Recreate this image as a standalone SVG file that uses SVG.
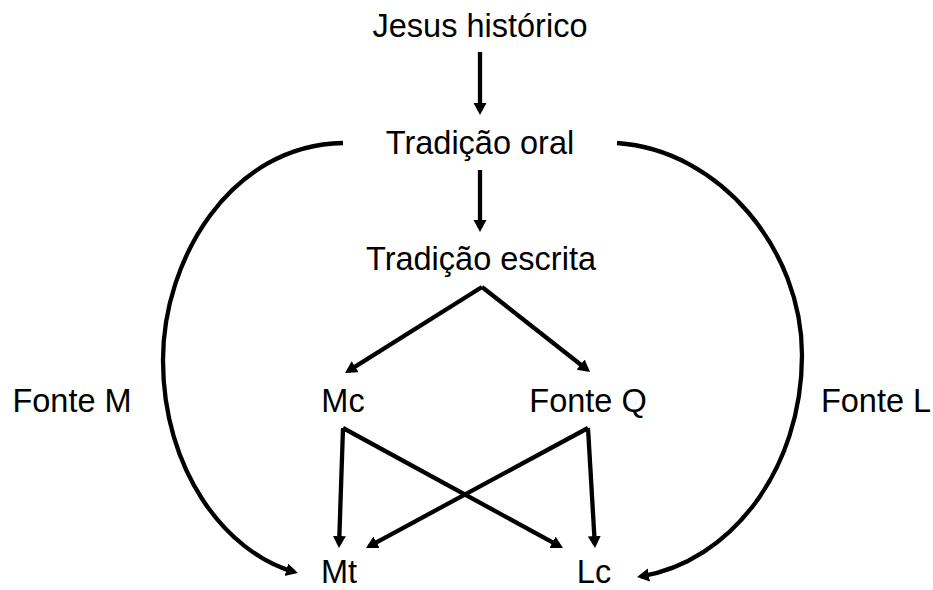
<svg xmlns="http://www.w3.org/2000/svg" width="933" height="590" viewBox="0 0 933 590">
<style>
text{font-family:"Liberation Sans",Arial,sans-serif;font-size:32.5px;fill:#000;text-anchor:middle}
.c{fill:none;stroke:#000;stroke-width:4.3;marker-end:url(#ah)}
</style>
<defs>
<marker id="ah" markerUnits="userSpaceOnUse" markerWidth="14" markerHeight="14" refX="8" refY="6.5" orient="auto">
<path d="M0,0 L12,6.5 L0,13 z" fill="#000"/>
</marker>
</defs>
<rect width="933" height="590" fill="#fff"/>
<g id="connectors">
<path class="c" d="M480,52 L480,111"/>
<path class="c" d="M480,170 L480,228"/>
<path class="c" d="M482,287 L348.4,370.9"/>
<path class="c" d="M482,287 L586.9,369.5"/>
<path class="c" d="M343,428 L339.1,544"/>
<path class="c" d="M343,428 L559.5,546.1"/>
<path class="c" d="M588,428 L369.5,546.1"/>
<path class="c" d="M588,428 L594.8,544"/>
<path class="c" d="M343,143 C230,145 163,260 163,360 C163,470 225,552 294,572"/>
<path class="c" d="M617,143 C720,150 802,250 802,355 C802,470 730,562 641,576.3"/>
</g>
<g id="jesus"><text x="480" y="37">Jesus histórico</text></g>
<g id="oral"><text x="480" y="154">Tradição oral</text></g>
<g id="escrita"><text x="481" y="270">Tradição escrita</text></g>
<g id="fonteM"><text x="72" y="412">Fonte M</text></g>
<g id="mc"><text x="343" y="412">Mc</text></g>
<g id="fonteQ"><text x="588" y="412">Fonte Q</text></g>
<g id="fonteL"><text x="876" y="412">Fonte L</text></g>
<g id="mt"><text x="339" y="583">Mt</text></g>
<g id="lc"><text x="594" y="583">Lc</text></g>
</svg>
